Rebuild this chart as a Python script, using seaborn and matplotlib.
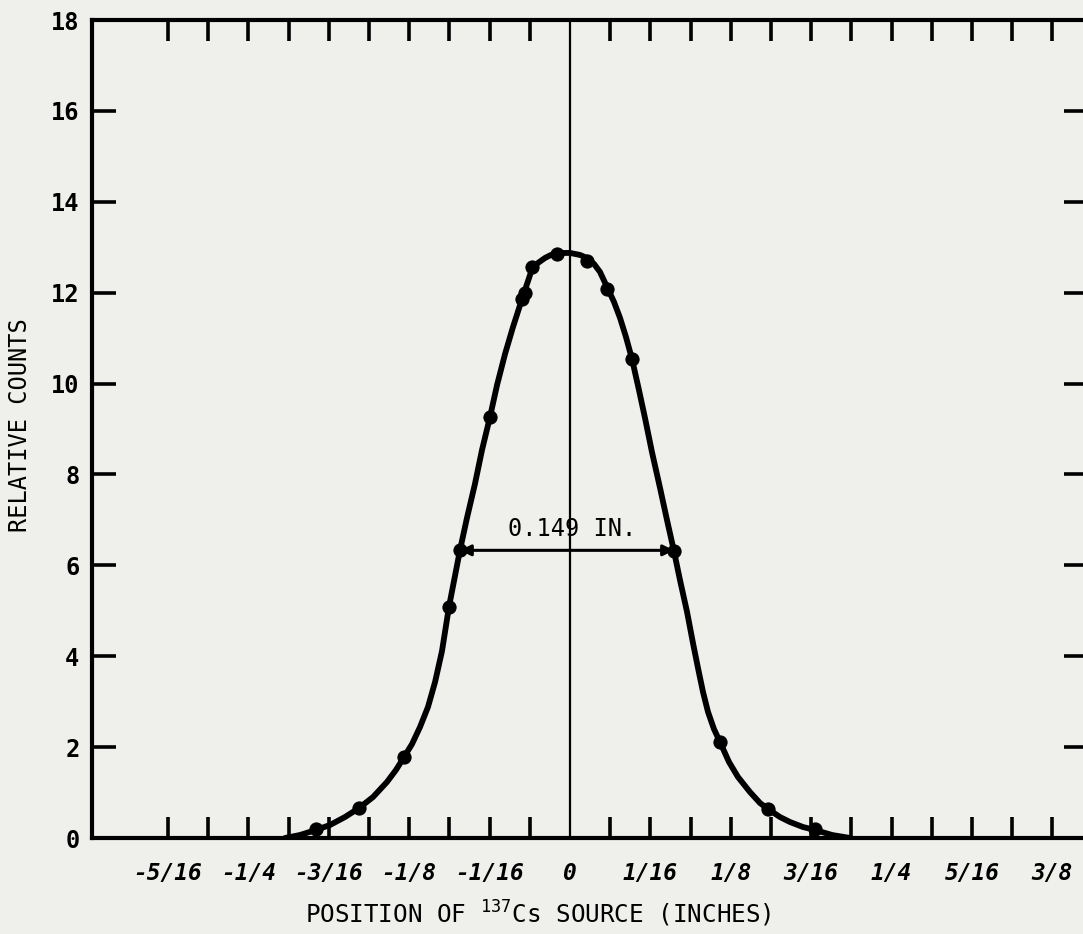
import numpy as np
import pandas as pd
import matplotlib
matplotlib.use('Agg')
import matplotlib.pyplot as plt
from matplotlib.ticker import FixedLocator
import seaborn as sns

#%% data
# measured points: source position (inches) and relative counts
pos_in = [-0.1974, -0.1640, -0.1290, -0.0941, -0.0855, -0.0622, -0.0373, -0.0350,
          -0.0295, -0.0101, 0.0132, 0.0288, 0.0482, 0.0808, 0.1166, 0.1539, 0.1905]
counts = [0.20, 0.66, 1.78, 5.08, 6.34, 9.26, 11.86, 11.99,
          12.57, 12.85, 12.70, 12.08, 10.54, 6.32, 2.11, 0.64, 0.20]

# hand drawn curve through the points
curve_pos = [-0.2215, -0.2099, -0.1975, -0.1866, -0.1749, -0.1640, -0.1531, -0.1423,
             -0.1353, -0.1290, -0.1228, -0.1166, -0.1104, -0.1049, -0.0995, -0.0941,
             -0.0855, -0.0801, -0.0739, -0.0684, -0.0622, -0.0567, -0.0505, -0.0443,
             -0.0373, -0.0334, -0.0295, -0.0249, -0.0194, -0.0148, -0.0101, -0.0047,
             0.0, 0.0078, 0.0132, 0.0187, 0.0233, 0.0288, 0.0342, 0.0389,
             0.0435, 0.0482, 0.0536, 0.0583, 0.0637, 0.0700, 0.0754, 0.0808,
             0.0855, 0.0910, 0.0956, 0.0995, 0.1034, 0.1073, 0.1119, 0.1166,
             0.1236, 0.1306, 0.1399, 0.1477, 0.1539, 0.1632, 0.1710, 0.1811,
             0.1905, 0.2037, 0.2177]
curve_counts = [0.000, 0.066, 0.176, 0.286, 0.462, 0.660, 0.902, 1.232,
                1.496, 1.782, 2.068, 2.442, 2.883, 3.433, 4.115, 5.084,
                6.338, 7.042, 7.790, 8.539, 9.265, 9.969, 10.651, 11.246,
                11.862, 12.192, 12.522, 12.654, 12.764, 12.830, 12.852, 12.874,
                12.874, 12.830, 12.764, 12.632, 12.456, 12.126, 11.796, 11.444,
                11.026, 10.541, 9.859, 9.243, 8.495, 7.702, 6.998, 6.316,
                5.678, 4.974, 4.291, 3.741, 3.213, 2.773, 2.399, 2.113,
                1.673, 1.342, 1.012, 0.770, 0.638, 0.462, 0.352, 0.242,
                0.176, 0.066, 0.000]

# half maximum width marker
fwhm_left = -0.0855
fwhm_right = 0.0808
fwhm_level = 6.33
fwhm_text = '0.149 IN.'

xtick_sixteenths = [-5, -4, -3, -2, -1, 0, 1, 2, 3, 4, 5, 6]
xtick_labels = ['-5/16', '-1/4', '-3/16', '-1/8', '-1/16', '0',
                '1/16', '1/8', '3/16', '1/4', '5/16', '3/8']
# tick marks every 1/32 in., none at 0 where the centre line is
xtick_marks = [k for k in range(-10, 13) if k != 0]
yticks = [0, 2, 4, 6, 8, 10, 12, 14, 16, 18]

df_pts = pd.DataFrame({'pos': pos_in, 'counts': counts})
df_curve = pd.DataFrame({'pos': curve_pos, 'counts': curve_counts})

#%% style
bg = '#efefec'
sns.set_style('white')
plt.rcParams['font.family'] = ['DejaVu Sans Mono', 'DejaVu Sans']
plt.rcParams['mathtext.fontset'] = 'custom'
plt.rcParams['mathtext.rm'] = 'DejaVu Sans Mono'
plt.rcParams['mathtext.default'] = 'rm'
for key in ['text.color', 'axes.labelcolor', 'xtick.color', 'ytick.color']:
    plt.rcParams[key] = 'black'

fig = plt.figure(figsize=(10.83, 9.34), dpi=100, facecolor=bg)
ax = fig.add_axes([92/1083, 96/934, 996/1083, 818/934])
ax.set_facecolor(bg)

#%% plot
ax.plot([0, 0], [0, 18], color='black', lw=1.6, zorder=1)
sns.lineplot(data=df_curve, x='pos', y='counts', sort=False, color='black',
             lw=4.2, ax=ax, zorder=3)
sns.scatterplot(data=df_pts, x='pos', y='counts', color='black', s=90,
                edgecolor='black', ax=ax, zorder=4)

ax.annotate('', xy=(fwhm_left, fwhm_level), xytext=(fwhm_right, fwhm_level),
            arrowprops=dict(arrowstyle='<|-|>', color='black', lw=2.2,
                            mutation_scale=16, shrinkA=0, shrinkB=0), zorder=2)
ax.text((fwhm_left + fwhm_right)/2 + 0.004, fwhm_level + 0.2, fwhm_text,
        ha='center', va='bottom', fontsize=17, color='black')

#%% axes
ax.set_xlim(-0.3716, 0.4027)
ax.set_ylim(0, 18)
ax.xaxis.remove_overlapping_locs = False
ax.set_xticks([k/16 for k in xtick_sixteenths])
ax.set_xticklabels(xtick_labels, fontsize=16.5, style='oblique', weight='bold')
ax.xaxis.set_minor_locator(FixedLocator([k/32 for k in xtick_marks]))
ax.set_yticks(yticks)
ax.set_yticklabels([str(v) for v in yticks], fontsize=17, weight='bold')
ax.tick_params(axis='x', which='major', length=0, top=False, bottom=True, pad=17)
ax.tick_params(axis='x', which='minor', direction='in', length=15, width=2.6,
               top=True, bottom=True, color='black')
ax.tick_params(axis='y', which='both', direction='in', length=17, width=2.6,
               left=True, right=True, pad=9, color='black')
for s in ax.spines.values():
    s.set_linewidth(3)
    s.set_color('black')

ax.set_xlabel(r'POSITION OF $^{137}$Cs SOURCE (INCHES)', fontsize=17.5)
ax.xaxis.set_label_coords(0.448, -0.074)
ax.xaxis.label.set_va('top')
ax.set_ylabel('RELATIVE COUNTS', fontsize=17)
ax.yaxis.set_label_coords(-0.06, 0.505)

plt.savefig('out.png', dpi=100, facecolor=bg)
